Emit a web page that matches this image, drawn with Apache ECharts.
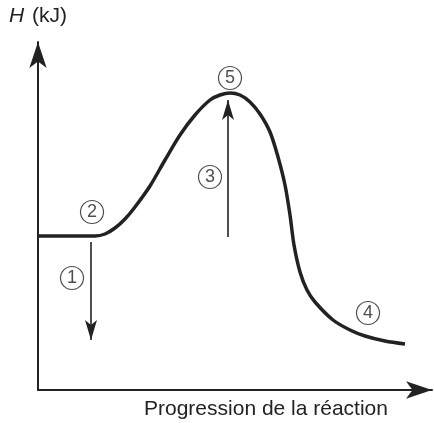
<!DOCTYPE html>
<html><head><meta charset="utf-8">
<script src="https://cdn.jsdelivr.net/npm/echarts@6/dist/echarts.min.js"></script>
<style>html,body{margin:0;padding:0;background:#fff}#c{width:434px;height:423px}</style>
</head><body><div id="c"></div>
<script>
// Enthalpy profile (arbitrary units): progression, H
const curveX = [0, 57, 67, 77, 87, 97, 112, 127, 142, 157, 172, 182, 192, 202, 212, 222, 232, 240, 247, 252, 256, 262, 269, 277, 295, 312, 327, 347, 367];
const curveH = [154, 154, 156, 162, 171, 183, 204, 230, 255, 275, 290, 295, 297, 295, 288, 276, 258, 233, 205, 175, 145, 118, 100, 88, 70, 60, 54, 49, 46];
// Arrows: [x, yStart, yEnd]
const arrow1 = [53, 148, 50];
const arrow3 = [190, 153, 290];
// Circled labels
const labelText = ['1', '2', '3', '4', '5'];
const labelX = [34, 54, 172, 330, 192];
const labelH = [112, 178, 213, 77, 312];
const yAxisTitle = 'H (kJ)';
const xAxisTitle = 'Progression de la réaction';

const ink = '#222';
const font = 'Liberation Sans, Arial, sans-serif';
const chart = echarts.init(document.getElementById('c'));
chart.setOption({
  animation: false,
  textStyle: { fontFamily: font },
  title: {
    text: xAxisTitle, left: 139, top: 394,
    textStyle: { fontSize: 21, fontWeight: 'normal', color: ink, fontFamily: font }
  },
  grid: { left: 38, right: 2, top: 42, bottom: 33 },
  xAxis: {
    type: 'value', min: 0, max: 394,
    axisLine: { lineStyle: { color: ink, width: 2 }, symbol: ['none', 'arrow'], symbolSize: [13, 26] },
    axisTick: { show: false }, axisLabel: { show: false }, splitLine: { show: false }
  },
  yAxis: {
    type: 'value', min: 0, max: 348,
    name: '{i|H}{s|}{n|(kJ)}', nameLocation: 'end', nameGap: 15,
    nameTextStyle: { rich: {
      i: { fontStyle: 'italic', fontSize: 21, color: ink, fontFamily: font },
      s: { width: 8 },
      n: { fontSize: 21, color: ink, fontFamily: font } } },
    axisLine: { lineStyle: { color: ink, width: 2 }, symbol: ['none', 'arrow'], symbolSize: [13, 26] },
    axisTick: { show: false }, axisLabel: { show: false }, splitLine: { show: false }
  },
  series: [
    {
      type: 'line', smooth: 0.3, symbol: 'none',
      data: curveX.map((x, i) => [x, curveH[i]]),
      lineStyle: { color: ink, width: 3.5 },
      markLine: {
        silent: true, symbol: ['none', 'arrow'], symbolSize: [9, 20],
        label: { show: false },
        lineStyle: { color: ink, width: 1.6, type: 'solid' },
        data: [
          [{ coord: [arrow1[0], arrow1[1]] }, { coord: [arrow1[0], arrow1[2]] }],
          [{ coord: [arrow3[0], arrow3[1]] }, { coord: [arrow3[0], arrow3[2]] }]
        ]
      }
    },
    {
      type: 'scatter', symbol: 'circle', symbolSize: 23,
      itemStyle: { color: '#fff', borderColor: ink, borderWidth: 1.2 },
      label: { show: true, position: 'inside', color: ink, fontSize: 18, formatter: p => labelText[p.dataIndex] },
      data: labelX.map((x, i) => [x, labelH[i]]),
      z: 5
    }
  ]
});
</script></body></html>
